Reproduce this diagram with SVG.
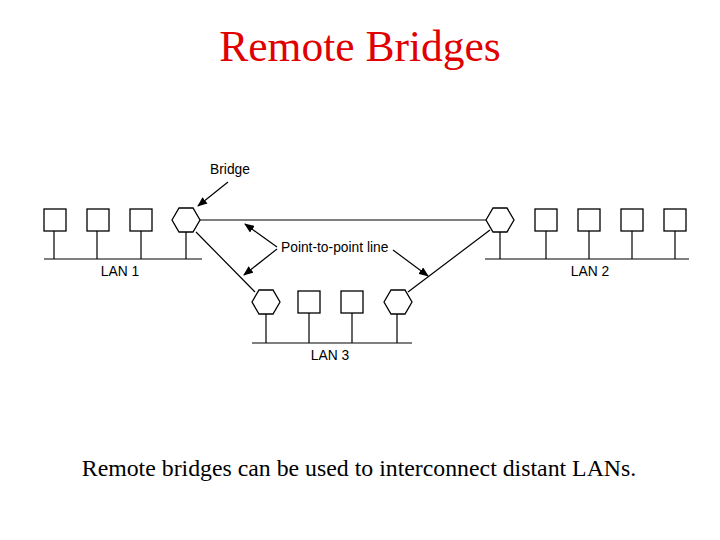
<svg xmlns="http://www.w3.org/2000/svg" width="720" height="540" viewBox="0 0 720 540">
<style>
.n{fill:#fff;stroke:#000;stroke-width:1.3}
.l{stroke:#000;stroke-width:1.2;fill:none}
.t{font-family:"Liberation Sans",Arial,sans-serif;font-size:13.8px;fill:#000}
</style>
<defs>
<marker id="a" markerWidth="10" markerHeight="8" refX="9" refY="4" orient="auto" markerUnits="userSpaceOnUse"><path d="M0,0 L10,4 L0,8 Z" fill="#000"/></marker>
<symbol id="h" overflow="visible"><polygon points="-14,0 -7,-12 7,-12 14,0 7,12 -7,12" class="n"/></symbol>
</defs>
<rect width="720" height="540" fill="#fff"/>
<text x="360" y="61" text-anchor="middle" font-family="Liberation Serif,serif" font-size="43.5" fill="#e00000">Remote Bridges</text>
<g id="lan1">
<path class="l" d="M44,259H202M54,231V259M97,231V259M141,231V259M186,232V259"/>
<rect class="n" x="44" y="209" width="22" height="22"/><rect class="n" x="87" y="209" width="22" height="22"/><rect class="n" x="130" y="209" width="22" height="22"/>
<use href="#h" x="186" y="220"/>
<text class="t" x="120" y="276" text-anchor="middle">LAN 1</text>
</g>
<g id="lan2">
<path class="l" d="M485,259H689M500,232V259M546,231V259M589,231V259M632,231V259M675,231V259"/>
<use href="#h" x="500" y="220"/>
<rect class="n" x="535" y="209" width="22" height="22"/><rect class="n" x="578" y="209" width="22" height="22"/><rect class="n" x="621" y="209" width="22" height="22"/><rect class="n" x="664" y="209" width="22" height="22"/>
<text class="t" x="590" y="276" text-anchor="middle">LAN 2</text>
</g>
<g id="lan3">
<path class="l" d="M252,343H412M266,314V343M309,313V343M352,313V343M397,314V343"/>
<use href="#h" x="266" y="302"/>
<rect class="n" x="298" y="291" width="22" height="22"/><rect class="n" x="341" y="291" width="22" height="22"/>
<use href="#h" x="398" y="302"/>
<text class="t" x="330" y="360" text-anchor="middle">LAN 3</text>
</g>
<g id="connectors">
<path class="l" d="M200,220H486M196,232L255,292M490,230L408,292"/>
<path class="l" d="M228,182L198,206" marker-end="url(#a)"/>
<path class="l" d="M277,247L245,224" marker-end="url(#a)"/>
<path class="l" d="M277,249L244,275" marker-end="url(#a)"/>
<path class="l" d="M393,250L428,276" marker-end="url(#a)"/>
</g>
<text class="t" x="230" y="174" text-anchor="middle">Bridge</text>
<text class="t" x="281" y="252">Point-to-point line</text>
<text x="359" y="476" text-anchor="middle" font-family="Liberation Serif,serif" font-size="23.8">Remote bridges can be used to interconnect distant LANs.</text>
</svg>
